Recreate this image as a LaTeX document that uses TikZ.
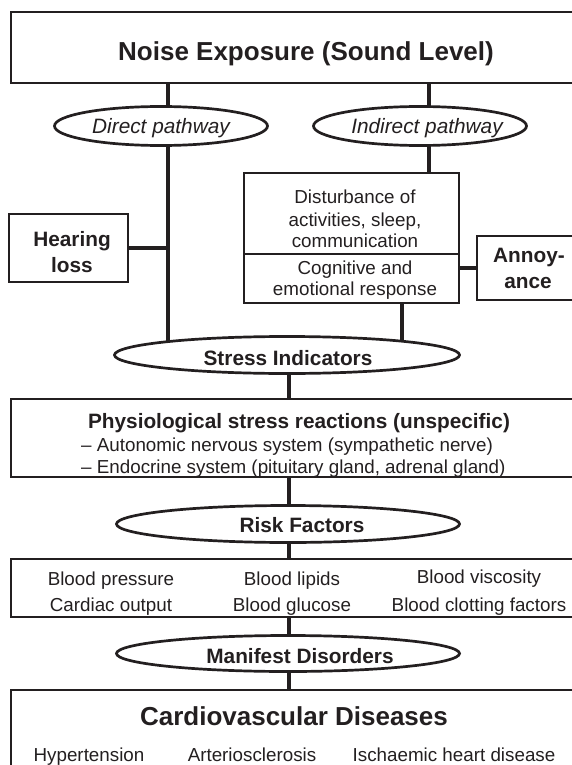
\documentclass[tikz,border=0pt]{standalone}
\usepackage{fontspec}
\setmainfont{Liberation Sans}
\usepackage{tikz}
\usetikzlibrary{shapes.geometric}
\usetikzlibrary{backgrounds}

\definecolor{ink}{RGB}{35,31,32}
\newcommand{\bigfont}{\fontsize{26}{31}\selectfont\bfseries}
\newcommand{\midfont}{\fontsize{20.8}{25}\selectfont\bfseries}
\newcommand{\itfont}{\fontsize{20.8}{25}\selectfont\itshape}
\newcommand{\smallfont}{\fontsize{18.8}{22.5}\selectfont}

\begin{document}
\begin{tikzpicture}[x=1pt,y=-1pt,
	box/.style={draw=ink,line width=2.7pt,rectangle,inner sep=0pt},
	oval/.style={draw=ink,fill=white,line width=2.7pt,ellipse,inner sep=0pt},
	link/.style={draw=ink,line width=3.2pt},
	lbl/.style={text=ink,inner sep=0pt,anchor=base,font=\smallfont},
	blbl/.style={lbl,font=\midfont},
	ilbl/.style={lbl,font=\itfont}]
	\useasboundingbox (0,0) rectangle (572,765);
	\clip (0,0) rectangle (572,765);

	\coordinate (dtrunk) at (168,0);
	\coordinate (itrunk) at (429,0);
	\coordinate (ctrunk) at (402,0);
	\coordinate (mtrunk) at (289,0);

	\node[box,minimum width=590pt,minimum height=71pt] (noise) at (306,47.5) {};
	\node[lbl,font=\bigfont] (noisel) at (306,61) {Noise Exposure (Sound Level)};

	\node[oval,minimum width=213pt,minimum height=39pt] (direct) at (161,126) {};
	\node[ilbl] (directl) at (161,134) {Direct pathway};
	\node[oval,minimum width=213pt,minimum height=39pt] (indirect) at (420,126) {};
	\node[ilbl] (indirectl) at (427,134) {Indirect pathway};

	\node[box,minimum width=119pt,minimum height=68pt] (hearing) at (68.5,248) {};
	\node[blbl] (hearing1) at (72,246) {Hearing};
	\node[blbl] (hearing2) at (72,272) {loss};

	\node[box,minimum width=215pt,minimum height=81pt] (disturb) at (351.5,213.5) {};
	\node[lbl] (disturb1) at (355,203) {Disturbance of};
	\node[lbl] (disturb2) at (355,226) {activities, sleep,};
	\node[lbl] (disturb3) at (355,247) {communication};
	\node[box,minimum width=215pt,minimum height=49pt] (cognitive) at (351.5,278.5) {};
	\node[lbl] (cognitive1) at (355,274) {Cognitive and};
	\node[lbl] (cognitive2) at (355,295) {emotional response};

	\node[box,minimum width=105pt,minimum height=64pt] (annoy) at (529.5,268) {};
	\node[blbl] (annoy1) at (529,262) {Annoy-};
	\node[blbl] (annoy2) at (528,288) {ance};

	\node[oval,minimum width=345pt,minimum height=37pt] (stress) at (287,355) {};
	\node[blbl] (stressl) at (288,365) {Stress Indicators};

	\node[box,minimum width=579pt,minimum height=78pt] (physio) at (300.5,438) {};
	\node[blbl] (physio1) at (299,428) {Physiological stress reactions (unspecific)};
	\node[lbl,anchor=base west] (physio2) at (81,451) {\textendash\ Autonomic nervous system (sympathetic nerve)};
	\node[lbl,anchor=base west] (physio3) at (81,473) {\textendash\ Endocrine system (pituitary gland, adrenal gland)};

	\node[oval,minimum width=343pt,minimum height=37pt] (risk) at (288,524) {};
	\node[blbl] (riskl) at (302,532) {Risk Factors};

	\node[box,minimum width=579pt,minimum height=58pt] (blood) at (300.5,588) {};
	\node[lbl] (blood1) at (111,585) {Blood pressure};
	\node[lbl] (blood2) at (111,611) {Cardiac output};
	\node[lbl] (blood3) at (292,585) {Blood lipids};
	\node[lbl] (blood4) at (292,611) {Blood glucose};
	\node[lbl] (blood5) at (479,583) {Blood viscosity};
	\node[lbl] (blood6) at (479,611) {Blood clotting factors};

	\node[oval,minimum width=343pt,minimum height=36pt] (manifest) at (288,653.5) {};
	\node[blbl] (manifestl) at (300,663) {Manifest Disorders};

	\node[box,minimum width=579pt,minimum height=110pt] (cardio) at (300.5,745) {};
	\node[lbl,font=\bigfont] (cardiol) at (294,725) {Cardiovascular Diseases};
	\node[lbl] (cardio1) at (89,761) {Hypertension};
	\node[lbl] (cardio2) at (252,761) {Arteriosclerosis};
	\node[lbl] (cardio3) at (454,761) {Ischaemic heart disease};

	\begin{pgfonlayer}{background}
		% direct pathway
		\draw[link] (noise.south -| dtrunk) -- (dtrunk |- direct.center);
		\draw[link] (dtrunk |- direct.center) -- (dtrunk |- stress.center);
		\draw[link] (hearing.east) -- (hearing.east -| dtrunk);
		% indirect pathway
		\draw[link] (noise.south -| itrunk) -- (itrunk |- indirect.center);
		\draw[link] (itrunk |- indirect.center) -- (disturb.north -| itrunk);
		\draw[link] (annoy.west -| cognitive.east) -- (annoy.west);
		\draw[link] (cognitive.south -| ctrunk) -- (ctrunk |- stress.center);
		% main chain
		\draw[link] (mtrunk |- stress.center) -- (physio.north -| mtrunk);
		\draw[link] (physio.south -| mtrunk) -- (mtrunk |- risk.center);
		\draw[link] (mtrunk |- risk.center) -- (blood.north -| mtrunk);
		\draw[link] (blood.south -| mtrunk) -- (mtrunk |- manifest.center);
		\draw[link] (mtrunk |- manifest.center) -- (cardio.north -| mtrunk);
	\end{pgfonlayer}
\end{tikzpicture}
\end{document}
